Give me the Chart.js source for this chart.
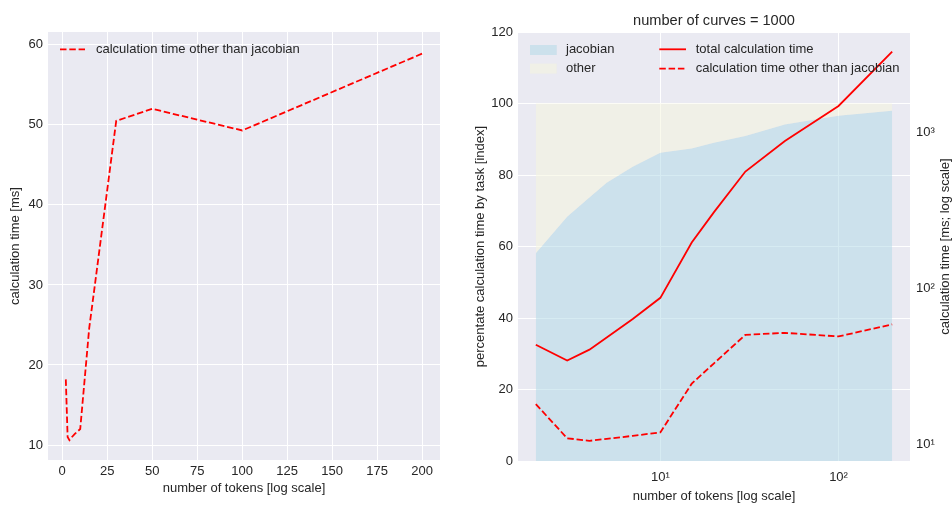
<!DOCTYPE html>
<html><head><meta charset="utf-8">
<script src="https://cdn.jsdelivr.net/npm/chart.js@4.4.1/dist/chart.umd.min.js"></script>
<style>
html,body{margin:0;padding:0;background:#fff;width:952px;height:507px;overflow:hidden}
#c1{position:absolute;left:0;top:0}
#c2{position:absolute;left:466px;top:0}
</style></head><body>
<canvas id="c1" width="466" height="507"></canvas>
<canvas id="c2" width="486" height="507"></canvas>
<script>
// ---- data ----
const tokens        = [2, 3, 4, 5, 7, 10, 15, 20, 30, 50, 100, 200];
const otherTimeMs   = [18.2, 11.0, 10.6, 10.9, 11.4, 12.0, 24.6, 33.2, 50.5, 52.0, 49.3, 58.9];
const totalTimeMs   = [43.6, 34.6, 40.6, 48.5, 63.8, 87.1, 197, 308, 560, 879, 1472, 3275];
const jacobianPct   = [58.1, 68.3, 73.7, 77.8, 82.3, 86.2, 87.4, 89.0, 90.9, 94.1, 96.6, 98.0];
const otherPct      = [41.9, 31.7, 26.3, 22.2, 17.7, 13.8, 12.6, 11.0, 9.1, 5.9, 3.4, 2.0];

const leftXTicks    = [0, 25, 50, 75, 100, 125, 150, 175, 200];
const leftYTicks    = [10, 20, 30, 40, 50, 60];
const rightXTicks   = [10, 100];
const rightXLabels  = ['10\u00B9', '10\u00B2'];
const pctTicks      = [0, 20, 40, 60, 80, 100, 120];
const msLogTicks    = [10, 100, 1000];
const msLogLabels   = ['10\u00B9', '10\u00B2', '10\u00B3'];

// ---- styling ----
const FF = "'Liberation Sans', Arial, sans-serif";
const TEXT = '#262626';
const BG = '#EAEAF2';
const RED = '#ff0000';
const LW = 1.8;
const DASH = [6.5, 2.8];
Chart.defaults.font.family = FF;
Chart.defaults.font.size = 13;
Chart.defaults.color = TEXT;

const bgPlugin = {
  id: 'bg',
  beforeDraw(chart) {
    const {ctx, chartArea: a} = chart;
    ctx.save();
    ctx.fillStyle = BG;
    ctx.fillRect(a.left, a.top, a.right - a.left, a.bottom - a.top);
    ctx.restore();
  }
};

function setTicks(vals) {
  return s => { s.ticks = vals.map(v => ({value: v})); };
}

// ---------------- LEFT CHART ----------------
const legendLeft = {
  id: 'legendLeft',
  afterDraw(chart) {
    const ctx = chart.ctx;
    ctx.save();
    ctx.strokeStyle = RED; ctx.lineWidth = LW; ctx.setLineDash(DASH);
    ctx.beginPath(); ctx.moveTo(60, 49.3); ctx.lineTo(85, 49.3); ctx.stroke();
    ctx.setLineDash([]);
    ctx.fillStyle = TEXT; ctx.font = '13px ' + FF;
    ctx.textAlign = 'left'; ctx.textBaseline = 'alphabetic';
    ctx.fillText(chart.data.datasets[0].label, 96, 52.6);
    ctx.restore();
  }
};

new Chart(document.getElementById('c1'), {
  type: 'line',
  data: {
    datasets: [{
      label: 'calculation time other than jacobian',
      data: tokens.map((t, i) => ({x: t, y: otherTimeMs[i]})),
      borderColor: RED, borderWidth: LW, borderDash: DASH,
      pointRadius: 0, fill: false, tension: 0
    }]
  },
  options: {
    responsive: false, animation: false, devicePixelRatio: 1,
    layout: {padding: {left: 0, right: 26, top: 32, bottom: 0}},
    plugins: {legend: {display: false}, tooltip: {enabled: false}, title: {display: false}},
    scales: {
      x: {
        type: 'linear', min: -7.9, max: 209.9,
        afterBuildTicks: setTicks(leftXTicks),
        afterFit: s => { s.height = 47; },
        grid: {color: '#ffffff', lineWidth: 1, drawTicks: false},
        border: {display: false},
        ticks: {padding: 4, maxRotation: 0, autoSkip: false, color: TEXT, font: {size: 13}},
        title: {display: true, text: 'number of tokens [log scale]', color: TEXT, font: {size: 13}, padding: {top: 0, bottom: 11}}
      },
      y: {
        type: 'linear', min: 8.13, max: 61.6,
        afterBuildTicks: setTicks(leftYTicks),
        afterFit: s => { s.width = 48; },
        grid: {color: '#ffffff', lineWidth: 1, drawTicks: false},
        border: {display: false},
        ticks: {padding: 5, autoSkip: false, color: TEXT, font: {size: 13}},
        title: {display: true, text: 'calculation time [ms]', color: TEXT, font: {size: 13}, padding: {top: 7.7, bottom: 0}}
      }
    }
  },
  plugins: [bgPlugin, legendLeft]
});

// ---------------- RIGHT CHART ----------------
const OFF = 466;
const JAC_FILL = 'rgba(173,216,230,0.5)';
const OTH_FILL = 'rgba(245,245,220,0.5)';

const decorRight = {
  id: 'decorRight',
  afterDraw(chart) {
    const ctx = chart.ctx;
    const a = chart.chartArea;
    ctx.save();
    // title
    ctx.fillStyle = TEXT;
    ctx.font = '14.6px ' + FF;
    ctx.textAlign = 'center'; ctx.textBaseline = 'alphabetic';
    ctx.fillText('number of curves = 1000', (a.left + a.right) / 2, 25);
    // right axis title (reads bottom to top)
    ctx.font = '13px ' + FF;
    ctx.save();
    ctx.translate(949.3 - OFF, (a.top + a.bottom) / 2);
    ctx.rotate(-Math.PI / 2);
    ctx.fillText('calculation time [ms; log scale]', 0, 0);
    ctx.restore();
    // legend
    ctx.textAlign = 'left';
    ctx.fillStyle = JAC_FILL; ctx.fillRect(530 - OFF, 45, 26.7, 10);
    ctx.fillStyle = OTH_FILL; ctx.fillRect(530 - OFF, 63.6, 26.7, 10);
    ctx.fillStyle = TEXT;
    ctx.fillText('jacobian', 566 - OFF, 52.6);
    ctx.fillText('other', 566 - OFF, 72.3);
    ctx.strokeStyle = RED; ctx.lineWidth = LW;
    ctx.beginPath(); ctx.moveTo(659.3 - OFF, 49.3); ctx.lineTo(686 - OFF, 49.3); ctx.stroke();
    ctx.setLineDash(DASH);
    ctx.beginPath(); ctx.moveTo(659.3 - OFF, 68.6); ctx.lineTo(686 - OFF, 68.6); ctx.stroke();
    ctx.setLineDash([]);
    ctx.fillText('total calculation time', 695.7 - OFF, 52.6);
    ctx.fillText('calculation time other than jacobian', 695.7 - OFF, 72.3);
    ctx.restore();
  }
};

new Chart(document.getElementById('c2'), {
  type: 'line',
  data: {
    datasets: [
      {
        label: 'jacobian', yAxisID: 'y', order: 3,
        data: tokens.map((t, i) => ({x: t, y: jacobianPct[i]})),
        fill: 'origin', backgroundColor: JAC_FILL,
        borderColor: 'rgba(0,0,0,0)', borderWidth: 1, pointRadius: 0, tension: 0
      },
      {
        label: 'other', yAxisID: 'y', order: 2,
        data: tokens.map((t, i) => ({x: t, y: jacobianPct[i] + otherPct[i]})),
        fill: '-1', backgroundColor: OTH_FILL,
        borderColor: 'rgba(0,0,0,0)', borderWidth: 1, pointRadius: 0, tension: 0
      },
      {
        label: 'total calculation time', yAxisID: 'y2', order: 1,
        data: tokens.map((t, i) => ({x: t, y: totalTimeMs[i]})),
        borderColor: RED, borderWidth: LW, pointRadius: 0, fill: false, tension: 0
      },
      {
        label: 'calculation time other than jacobian', yAxisID: 'y2', order: 0,
        data: tokens.map((t, i) => ({x: t, y: otherTimeMs[i]})),
        borderColor: RED, borderWidth: LW, borderDash: DASH, pointRadius: 0, fill: false, tension: 0
      }
    ]
  },
  options: {
    responsive: false, animation: false, devicePixelRatio: 1,
    layout: {padding: {left: 0, right: 0, top: 32, bottom: 0}},
    plugins: {legend: {display: false}, tooltip: {enabled: false}, title: {display: false}, filler: {propagate: false}},
    scales: {
      x: {
        type: 'logarithmic', min: 1.589, max: 251.8,
        afterBuildTicks: setTicks(rightXTicks),
        afterFit: s => { s.height = 46; },
        grid: {color: '#ffffff', lineWidth: 1, drawTicks: false},
        border: {display: false},
        ticks: {padding: 8.4, maxRotation: 0, autoSkip: false, color: TEXT, font: {size: 13},
          callback: v => { const k = rightXTicks.indexOf(v); return k >= 0 ? rightXLabels[k] : ''; }},
        title: {display: true, text: 'number of tokens [log scale]', color: TEXT, font: {size: 13}, padding: {top: 0, bottom: 2.5}}
      },
      y: {
        type: 'linear', position: 'left', min: 0, max: 120,
        afterBuildTicks: setTicks(pctTicks),
        afterFit: s => { s.width = 52; },
        grid: {color: '#ffffff', lineWidth: 1, drawTicks: false},
        border: {display: false},
        ticks: {padding: 5, autoSkip: false, color: TEXT, font: {size: 13}},
        title: {display: true, text: 'percentate calculation time by task [index]', color: TEXT, font: {size: 13}, padding: {top: 6.2, bottom: 0}}
      },
      y2: {
        type: 'logarithmic', position: 'right', min: 7.87, max: 4375,
        afterBuildTicks: setTicks(msLogTicks),
        afterFit: s => { s.width = 42; },
        grid: {display: false, drawTicks: false},
        border: {display: false},
        ticks: {padding: 6, autoSkip: false, color: TEXT, font: {size: 13},
          callback: v => { const k = msLogTicks.indexOf(v); return k >= 0 ? msLogLabels[k] : ''; }},
        title: {display: false}
      }
    }
  },
  plugins: [bgPlugin, decorRight]
});
</script>
</body></html>
